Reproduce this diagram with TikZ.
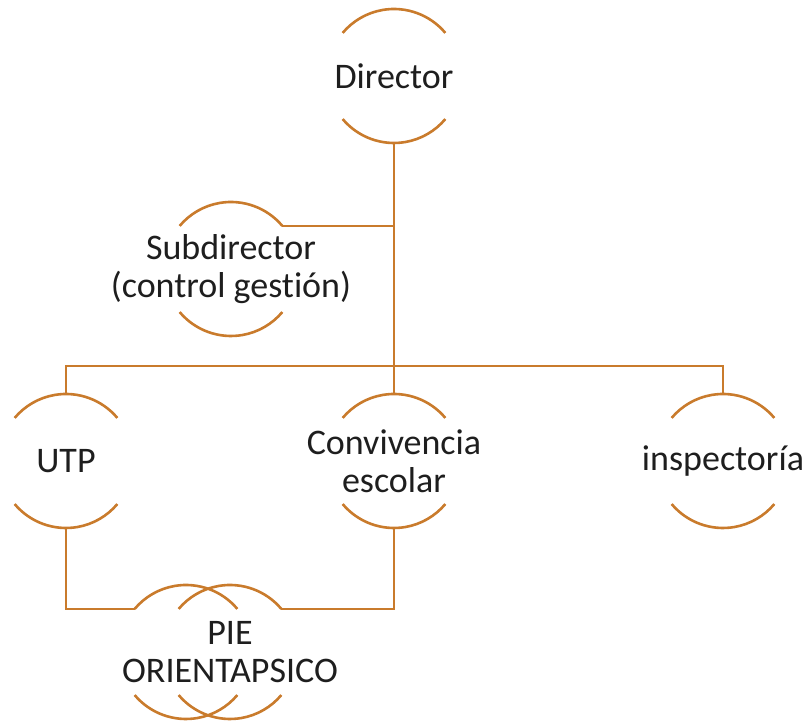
\documentclass[tikz,border=0pt]{standalone}
\usepackage{fontspec}
\setmainfont{Carlito}[Ligatures=NoCommon]
\definecolor{orgOrange}{HTML}{C97B2C}
\definecolor{orgText}{HTML}{1E1E1E}
\usetikzlibrary{calc}

% top and bottom arcs of a ring node
\newcommand\ringarcs[1]{%
  \draw[ringline] (#1.40) arc[start angle=40,end angle=140,radius=33.5pt];
  \draw[ringline] (#1.220) arc[start angle=220,end angle=320,radius=33.5pt];}

\begin{document}
\begin{tikzpicture}[x=0.5pt,y=0.5pt,
    ring/.style={circle,minimum size=67pt,inner sep=0pt,outer sep=0pt},
    ringline/.style={orgOrange,line width=1.3pt},
    lbl/.style={text=orgText,font=\fontsize{18}{18.8}\selectfont,align=center}]
  \useasboundingbox (0,0) rectangle (811,723);

  \node[ring,label={[lbl]center:Director}] (dir) at (394,647) {};
  \node[ring,label={[lbl]center:{Subdirector\\(control gestión)}}] (sub) at (231,454) {};
  \node[ring,label={[lbl]center:UTP}] (utp) at (66,262) {};
  \node[ring,label={[lbl]center:{Convivencia\\escolar}}] (conv) at (394,262) {};
  \node[ring,label={[lbl]center:inspectoría}] (insp) at (723,262) {};
  \node[ring] (pieL) at (186,71) {};
  \node[ring,label={[lbl]center:{PIE\\ORIENTAPSICO}}] (pieR) at (230,71) {};
  \coordinate (bar) at (394,357);

  \foreach \n in {dir,sub,utp,conv,insp,pieL,pieR} {\ringarcs{\n}}

  % connectors
  \draw[ringline] (dir.south) -- (conv.north);
  \draw[ringline] (sub.40) -- (sub.40 -| dir.south);
  \draw[ringline] (utp.north) |- (bar) -| (insp.north);
  \draw[ringline] (utp.south) |- (pieL.140);
  \draw[ringline] (conv.south) |- (pieR.40);
\end{tikzpicture}
\end{document}
